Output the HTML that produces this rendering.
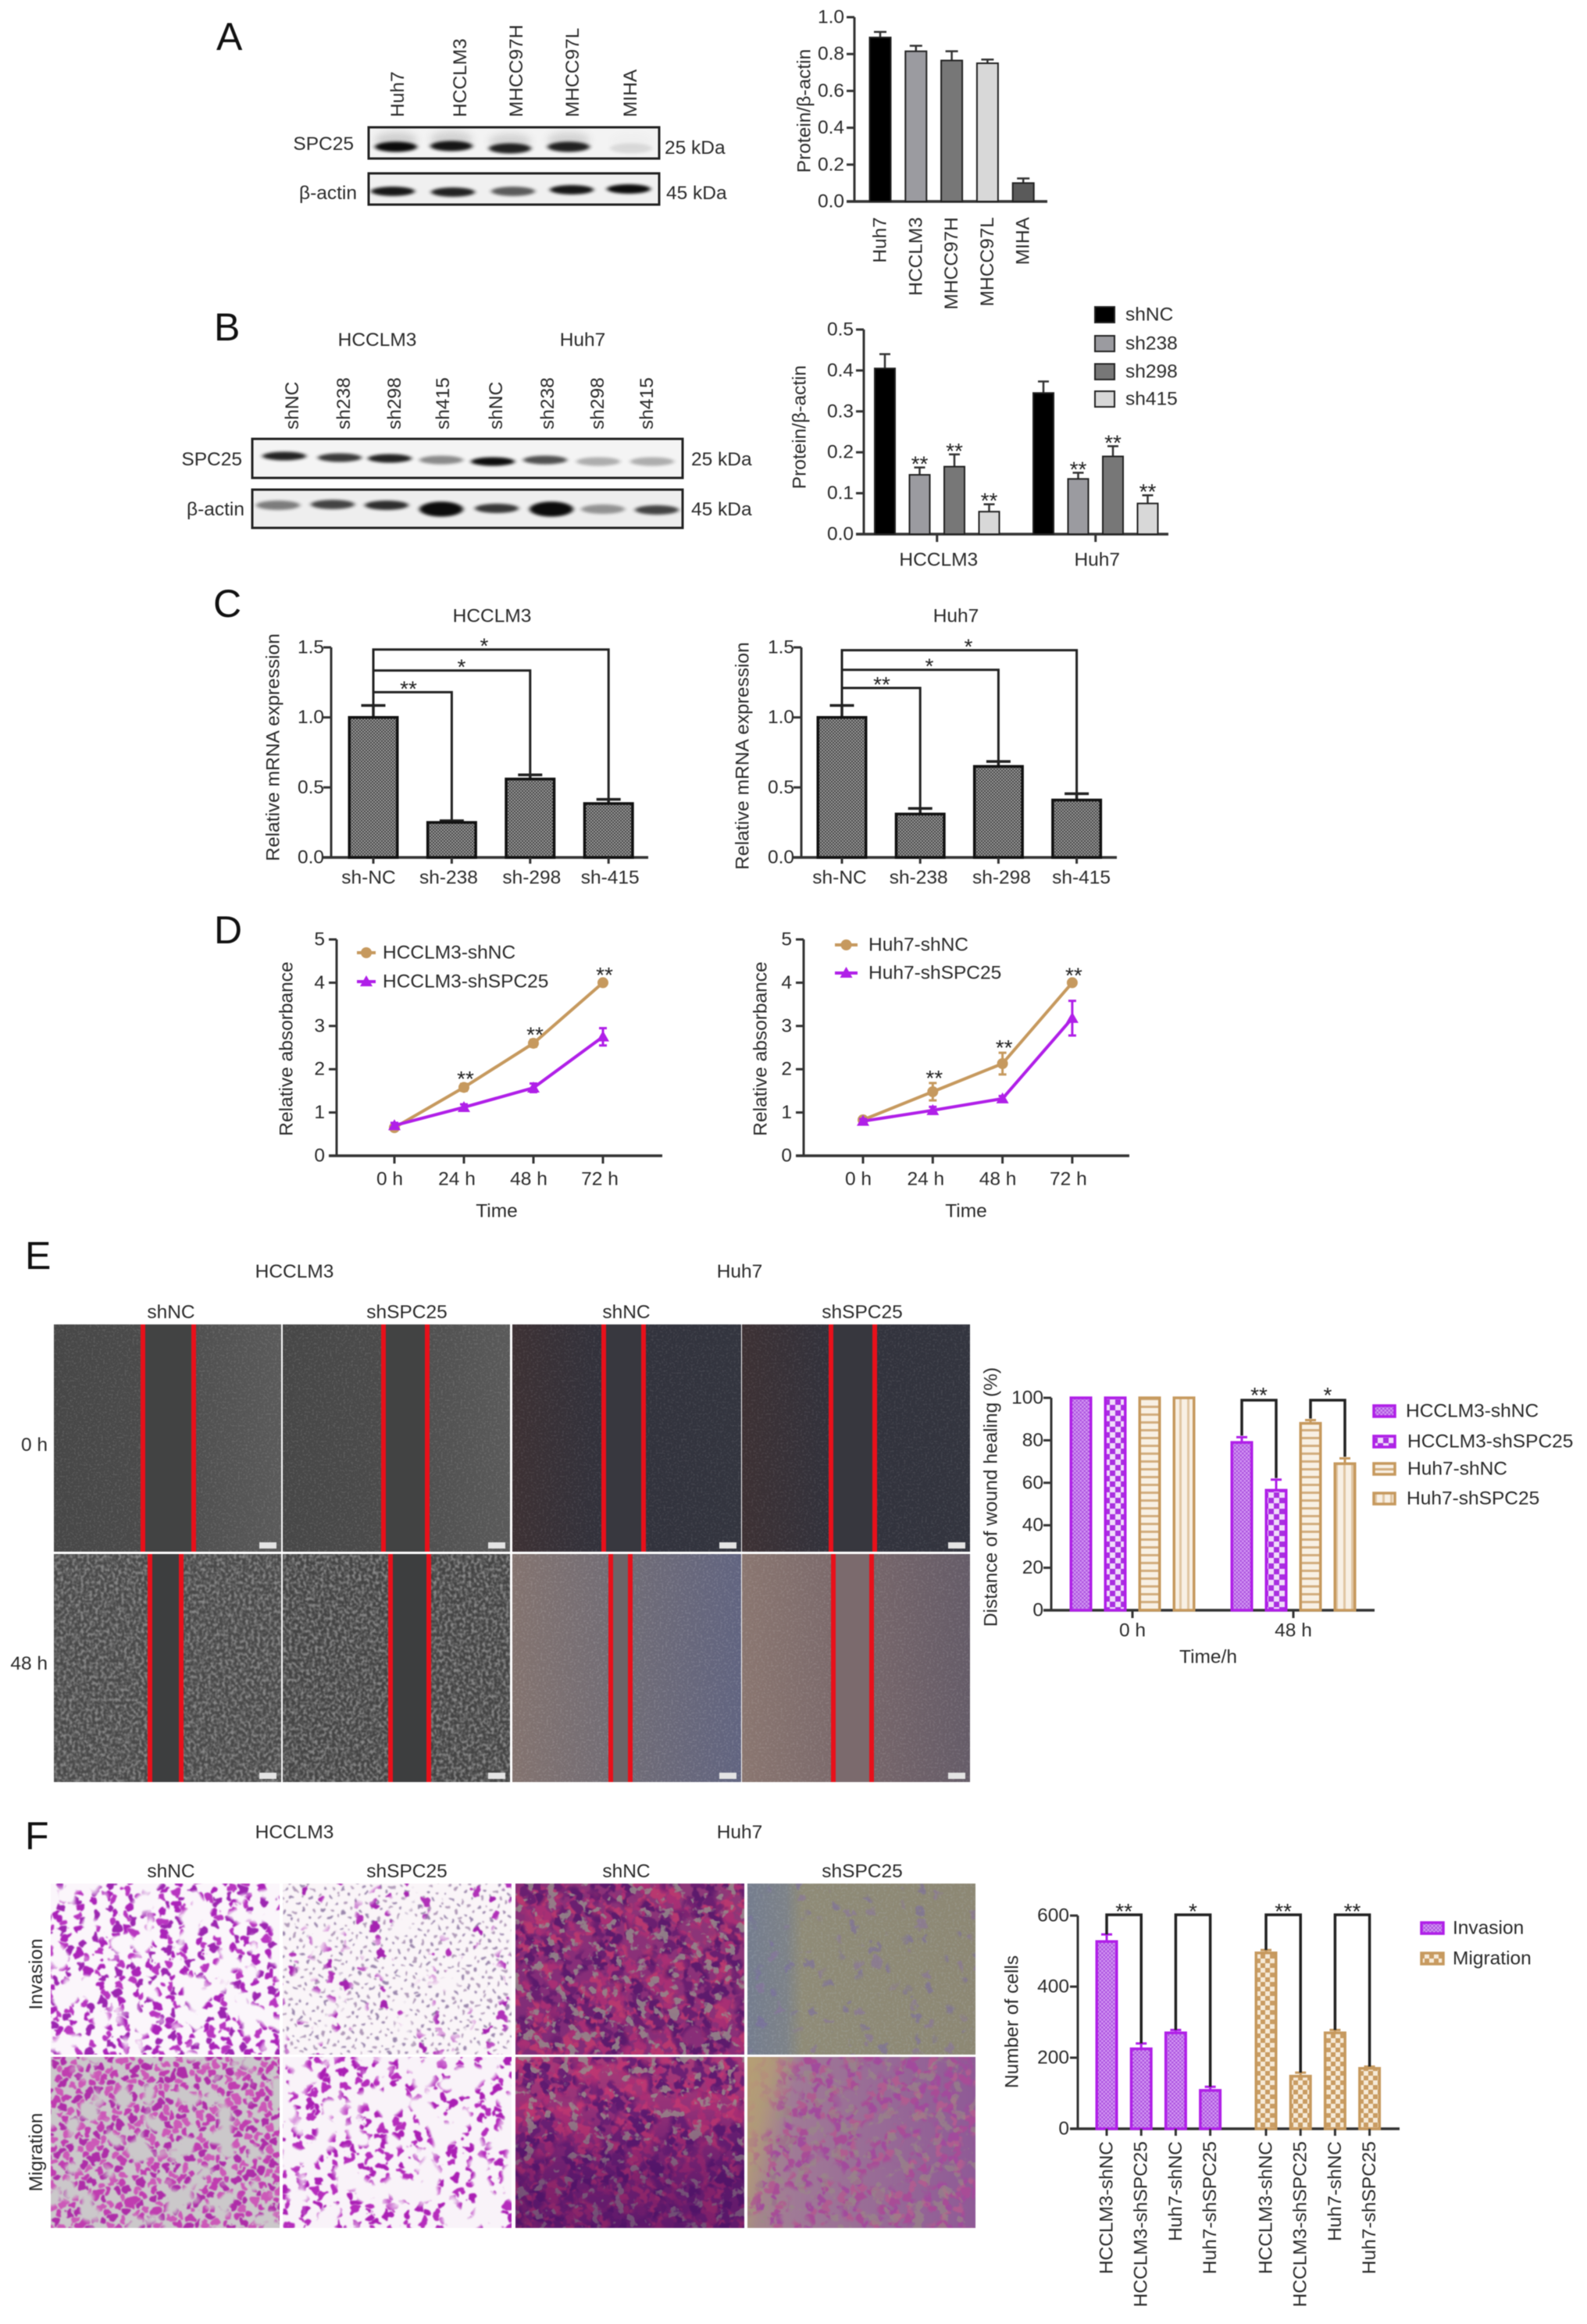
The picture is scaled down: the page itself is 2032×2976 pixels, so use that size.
<!DOCTYPE html>
<html lang="en">
<head>
<meta charset="utf-8">
<title>SPC25 knockdown figure</title>
<style>
html,body{margin:0;padding:0;background:#fff}
svg{display:block}
text{font-family:"Liberation Sans",sans-serif;fill:#2b2b2b;font-size:24.5px}
.letter{font-size:50px;fill:#111}
</style>
</head>
<body>
<svg id="figure" xmlns="http://www.w3.org/2000/svg" width="2032" height="2976" viewBox="0 0 2032 2976" style="filter:blur(.6px)">
<defs id="defs">
  <pattern id="p-fine" width="5" height="5" patternUnits="userSpaceOnUse"><rect width="5" height="5" fill="#d396f3"/><rect width="2.5" height="2.5" fill="#ad55df"/><rect x="2.5" y="2.5" width="2.5" height="2.5" fill="#ad55df"/></pattern>
  <pattern id="p-check" width="14" height="14" patternUnits="userSpaceOnUse"><rect width="14" height="14" fill="#f0dcfa"/><rect width="7" height="7" fill="#a92fe0"/><rect x="7" y="7" width="7" height="7" fill="#a92fe0"/></pattern>
  <pattern id="g-hline" width="10" height="10" patternUnits="userSpaceOnUse"><rect width="10" height="10" fill="#f8f0e4"/><rect width="10" height="3" fill="#d2ad7e"/></pattern>
  <pattern id="g-vline" width="10" height="10" patternUnits="userSpaceOnUse"><rect width="10" height="10" fill="#f8f0e4"/><rect width="3" height="10" fill="#e0c6a2"/></pattern>
  <pattern id="g-check" width="12" height="12" patternUnits="userSpaceOnUse"><rect width="12" height="12" fill="#f6ead8"/><rect width="6" height="6" fill="#c99c62"/><rect x="6" y="6" width="6" height="6" fill="#c99c62"/></pattern>
  <pattern id="k-check" width="4" height="4" patternUnits="userSpaceOnUse"><rect width="4" height="4" fill="#a2a2a2"/><rect width="2" height="2" fill="#3f3f3f"/><rect x="2" y="2" width="2" height="2" fill="#3f3f3f"/></pattern>
  <filter id="bandBlur" x="-30%" y="-100%" width="160%" height="300%"><feGaussianBlur stdDeviation="3 1.8"/></filter>
  <filter id="haloBlur" x="-30%" y="-100%" width="160%" height="300%"><feGaussianBlur stdDeviation="5 5"/></filter>
  <filter id="speckle" x="0" y="0" width="100%" height="100%" color-interpolation-filters="sRGB"><feTurbulence type="fractalNoise" baseFrequency="0.4" numOctaves="2" seed="4"/><feColorMatrix values="0 0 0 0 1 0 0 0 0 1 0 0 0 0 1 0 0 0 5 -2.6"/></filter>
  <filter id="speckleDense" x="0" y="0" width="100%" height="100%" color-interpolation-filters="sRGB"><feTurbulence type="fractalNoise" baseFrequency="0.27 0.24" numOctaves="3" seed="9"/><feColorMatrix values="0 0 0 0 1 0 0 0 0 1 0 0 0 0 1 0 0 0 3 -1.2"/><feGaussianBlur stdDeviation="0.5"/></filter>
  <linearGradient id="w-dark"><stop offset="0" stop-color="#474747"/><stop offset=".45" stop-color="#4b4b4b"/><stop offset="1" stop-color="#5a5a5a"/></linearGradient>
  <linearGradient id="w-huh"><stop offset="0" stop-color="#3d3134"/><stop offset=".4" stop-color="#32323c"/><stop offset="1" stop-color="#33353f"/></linearGradient>
  <linearGradient id="w-huh2a"><stop offset="0" stop-color="#83736f"/><stop offset=".5" stop-color="#706c76"/><stop offset="1" stop-color="#616480"/></linearGradient>
  <linearGradient id="w-huh2b"><stop offset="0" stop-color="#8a7670"/><stop offset=".6" stop-color="#75656a"/><stop offset="1" stop-color="#655c68"/></linearGradient>
  <linearGradient id="t-olive"><stop offset="0" stop-color="#757d8e"/><stop offset=".17" stop-color="#7d8288"/><stop offset=".24" stop-color="#8f8b77"/><stop offset="1" stop-color="#8d8874"/></linearGradient>
  <linearGradient id="t-mauve" x1="0" y1="0" x2="1" y2="0"><stop offset="0" stop-color="#a58a88"/><stop offset=".2" stop-color="#a07a96"/><stop offset="1" stop-color="#8f5a96"/></linearGradient>
  <linearGradient id="t-tanover" x1="0" y1=".15" x2="1" y2=".35"><stop offset="0" stop-color="#b69f74" stop-opacity=".95"/><stop offset=".09" stop-color="#b69f74" stop-opacity=".7"/><stop offset=".2" stop-color="#b69f74" stop-opacity="0"/></linearGradient>
  <linearGradient id="t-dark1" x1="0" y1="1" x2="1" y2="0"><stop offset="0" stop-color="#7e2c78"/><stop offset=".5" stop-color="#8a2f78"/><stop offset="1" stop-color="#8e3a78"/></linearGradient>
  <linearGradient id="t-dark2" x1="0" y1="0" x2="0" y2="1"><stop offset="0" stop-color="#a83c78"/><stop offset=".45" stop-color="#8a2c78"/><stop offset="1" stop-color="#7a2478"/></linearGradient>
  <linearGradient id="t-shade" x1="0" y1="0" x2="0" y2="1"><stop offset=".3" stop-color="#3c0a5a" stop-opacity="0"/><stop offset=".7" stop-color="#3c0a5a" stop-opacity=".35"/><stop offset="1" stop-color="#3c0a5a" stop-opacity=".4"/></linearGradient>
</defs>

<!-- panel letters -->
<text class="letter" x="277" y="64">A</text>
<text class="letter" x="274" y="436">B</text>
<text class="letter" x="273" y="790">C</text>
<text class="letter" x="274" y="1208">D</text>
<text class="letter" x="32" y="1625">E</text>
<text class="letter" x="32" y="2368">F</text>

<!-- blot labels -->
<g>
  <text transform="rotate(-90 517 150)" x="517" y="150">Huh7</text>
  <text transform="rotate(-90 597 150)" x="597" y="150">HCCLM3</text>
  <text transform="rotate(-90 669 150)" x="669" y="150">MHCC97H</text>
  <text transform="rotate(-90 741 150)" x="741" y="150">MHCC97L</text>
  <text transform="rotate(-90 815 150)" x="815" y="150">MIHA</text>
  <text x="453" y="192" text-anchor="end">SPC25</text>
  <text x="457" y="255" text-anchor="end">β-actin</text>
  <text x="851" y="197">25 kDa</text>
  <text x="853" y="255">45 kDa</text>
</g>
<g>
  <text x="483" y="443" text-anchor="middle">HCCLM3</text>
  <text x="746" y="443" text-anchor="middle">Huh7</text>
  <text transform="rotate(-90 382 550)" x="382" y="550">shNC</text>
  <text transform="rotate(-90 448 550)" x="448" y="550">sh238</text>
  <text transform="rotate(-90 513 550)" x="513" y="550">sh298</text>
  <text transform="rotate(-90 575 550)" x="575" y="550">sh415</text>
  <text transform="rotate(-90 643 550)" x="643" y="550">shNC</text>
  <text transform="rotate(-90 709 550)" x="709" y="550">sh238</text>
  <text transform="rotate(-90 773 550)" x="773" y="550">sh298</text>
  <text transform="rotate(-90 836 550)" x="836" y="550">sh415</text>
  <text x="310" y="596" text-anchor="end">SPC25</text>
  <text x="313" y="660" text-anchor="end">β-actin</text>
  <text x="885" y="596">25 kDa</text>
  <text x="885" y="660">45 kDa</text>
</g>

<!-- panel E labels -->
<g>
  <text x="377" y="1636" text-anchor="middle">HCCLM3</text>
  <text x="947" y="1636" text-anchor="middle">Huh7</text>
  <text x="219" y="1688" text-anchor="middle">shNC</text>
  <text x="521" y="1688" text-anchor="middle">shSPC25</text>
  <text x="802" y="1688" text-anchor="middle">shNC</text>
  <text x="1104" y="1688" text-anchor="middle">shSPC25</text>
  <text x="61" y="1858" text-anchor="end">0  h</text>
  <text x="61" y="2138" text-anchor="end">48 h</text>
</g>
<!-- panel F labels -->
<g>
  <text x="377" y="2354" text-anchor="middle">HCCLM3</text>
  <text x="947" y="2354" text-anchor="middle">Huh7</text>
  <text x="219" y="2404" text-anchor="middle">shNC</text>
  <text x="521" y="2404" text-anchor="middle">shSPC25</text>
  <text x="802" y="2404" text-anchor="middle">shNC</text>
  <text x="1104" y="2404" text-anchor="middle">shSPC25</text>
  <text transform="rotate(-90 54 2528)" x="54" y="2528" text-anchor="middle">Invasion</text>
  <text transform="rotate(-90 54 2756)" x="54" y="2756" text-anchor="middle">Migration</text>
</g>
</svg>

<script>
/* ---------- chart data ---------- */
const aCategories = ['Huh7','HCCLM3','MHCC97H','MHCC97L','MIHA'];
const aValues = [0.89,0.815,0.765,0.75,0.10];
const aErrors = [0.03,0.03,0.05,0.02,0.025];
const aTicks = [0,0.2,0.4,0.6,0.8,1.0];
const aTickLabels = ['0.0','0.2','0.4','0.6','0.8','1.0'];

const bGroups = ['HCCLM3','Huh7'];
const bSeries = ['shNC','sh238','sh298','sh415'];
const bHcclm3Values = [0.405,0.145,0.165,0.055];
const bHcclm3Errors = [0.035,0.018,0.03,0.018];
const bHuh7Values = [0.345,0.135,0.19,0.075];
const bHuh7Errors = [0.028,0.015,0.025,0.02];
const bTicks = [0,0.1,0.2,0.3,0.4,0.5];
const bTickLabels = ['0.0','0.1','0.2','0.3','0.4','0.5'];
const bStars = ['','**','**','**'];

const cCategories = ['sh-NC','sh-238','sh-298','sh-415'];
const cHcclm3Values = [1.0,0.25,0.56,0.385];
const cHcclm3Errors = [0.085,0.012,0.03,0.03];
const cHcclm3Levels = [1.18,1.335,1.485];
const cHuh7Values = [1.0,0.31,0.65,0.41];
const cHuh7Errors = [0.085,0.04,0.035,0.045];
const cHuh7Levels = [1.21,1.34,1.48];
const cStars = ['**','*','*'];
const cTicks = [0,0.5,1.0,1.5];
const cTickLabels = ['0.0','0.5','1.0','1.5'];

const dTimes = ['0 h','24 h','48 h','72 h'];
const dTicks = [0,1,2,3,4,5];
const dTickLabels = ['0','1','2','3','4','5'];
const dHcclm3NC = [0.65,1.58,2.6,4.0];
const dHcclm3NCErr = [0.05,0.08,0.08,0.06];
const dHcclm3SPC = [0.7,1.12,1.57,2.75];
const dHcclm3SPCErr = [0.06,0.07,0.1,0.2];
const dHuh7NC = [0.83,1.48,2.13,4.0];
const dHuh7NCErr = [0.05,0.2,0.25,0.05];
const dHuh7SPC = [0.8,1.05,1.32,3.18];
const dHuh7SPCErr = [0.05,0.08,0.06,0.4];
const dStars = ['','**','**','**'];

const eGroups = ['0 h','48 h'];
const eSeries = ['HCCLM3-shNC','HCCLM3-shSPC25','Huh7-shNC','Huh7-shSPC25'];
const e0hValues = [100,100,100,100];
const e0hErrors = [0,0,0,0];
const e48hValues = [79,56.5,88,69];
const e48hErrors = [2.5,5,1.5,2.5];
const eTicks = [0,20,40,60,80,100];
const eTickLabels = ['0','20','40','60','80','100'];

const fCategories = ['HCCLM3-shNC','HCCLM3-shSPC25','Huh7-shNC','Huh7-shSPC25'];
const fInvasionValues = [527,225,270,108];
const fInvasionErrors = [20,15,8,10];
const fMigrationValues = [495,148,270,170];
const fMigrationErrors = [8,10,8,5];
const fTicks = [0,200,400,600];
const fTickLabels = ['0','200','400','600'];
const fBracketStars = ['**','*','**','**'];

/* blot band intensity per lane */
const blotASpc = [1,0.95,0.9,0.9,0.1];
const blotAActin = [0.95,0.9,0.65,0.95,1];
const blotBSpc = [0.9,0.8,0.9,0.45,1,0.7,0.3,0.3];
const blotBActin = [0.5,0.75,0.85,1,0.8,1,0.4,0.75];

/* ---------- helpers ---------- */
const NS = 'http://www.w3.org/2000/svg';
const root = document.getElementById('figure');
function mk(parent, tag, attrs) {
  const n = document.createElementNS(NS, tag);
  for (const k in attrs) n.setAttribute(k, attrs[k]);
  parent.appendChild(n);
  return n;
}
function txt(parent, x, y, s, extra) {
  const t = mk(parent, 'text', Object.assign({x: x, y: y, 'dominant-baseline': 'central'}, extra || {}));
  t.textContent = s;
  return t;
}
function vtxt(parent, x, y, s, anchor) {
  const t = txt(parent, x, y, s, {'text-anchor': anchor, transform: 'rotate(-90 ' + x + ' ' + y + ')'});
  return t;
}
function line(parent, x1, y1, x2, y2, color, w) {
  return mk(parent, 'line', {x1: x1, y1: y1, x2: x2, y2: y2, stroke: color, 'stroke-width': w});
}
function star(parent, x, cy, s) {
  const t = mk(parent, 'text', {x: x, y: cy + 16, 'text-anchor': 'middle', style: 'font-size:28px;fill:#222'});
  t.textContent = s;
  return t;
}
const AX = '#333';
function yScale(ax) { return v => ax.y0 - v / ax.max * (ax.y0 - ax.yTop); }

function drawAxes(g, ax, ticks, labels, title, titleX, titleY) {
  const y = yScale(ax);
  const yl = line(g, ax.x, ax.yTop, ax.x, ax.y0, AX, 3);
  
  
  const xl = line(g, ax.x - 10, ax.y0, ax.xEnd, ax.y0, AX, 3.5);
  
  
  ticks.forEach((t, i) => {
    const tk = line(g, ax.x - 10, y(t), ax.x, y(t), AX, 3);
    
    
    const lb = txt(g, ax.x - (ax.labelGap || 13), y(t), labels[i], {'text-anchor': 'end'});
    
    
  });
  const yt = vtxt(g, titleX, titleY, title, 'middle');
  
  
}

function drawBar(g, x, width, top, base, fill, stroke, sw) {
  return mk(g, 'rect', {x: x - width / 2 + sw / 2, y: top, width: width - sw, height: base - top, fill: fill, stroke: stroke, 'stroke-width': sw});
}
function drawErr(g, x, top, errTop, cap, color, w) {
  const e = mk(g, 'path', {d: 'M' + x + ' ' + top + 'V' + errTop + 'M' + (x - cap / 2) + ' ' + errTop + 'H' + (x + cap / 2), fill: 'none', stroke: color, 'stroke-width': w});
  return e;
}

/* ---------- western blots ---------- */
function drawBlot(name, box, values, laneX, laneY, bandW, bandH) {
  const g = mk(root, 'g', {});
  
  
  const r = mk(g, 'rect', {x: box.x, y: box.y, width: box.w, height: box.h, fill: box.fill});
  
  
  values.forEach((v, i) => {
    if (box.halo) {
      mk(g, 'ellipse', {cx: laneX[i], cy: laneY[i] - 9, rx: bandW / 2, ry: 10, fill: '#555', opacity: v * 0.22, filter: 'url(#haloBlur)'});
    }
    const h = bandH * (v > 0.95 && box.swell ? 1.6 : 1);
    const e = mk(g, 'ellipse', {cx: laneX[i], cy: laneY[i], rx: bandW / 2, ry: h / 2, fill: '#000', opacity: v * 0.95, filter: 'url(#bandBlur)'});
    
    
  });
  const f = mk(g, 'rect', {x: box.x, y: box.y, width: box.w, height: box.h, fill: 'none', stroke: '#222', 'stroke-width': 3});
  
  
}
drawBlot('blot-a-spc25', {x: 472, y: 163, w: 372, h: 40, fill: '#f3f3f3', halo: true}, blotASpc, [507,578,653,728,808], [188,187,190,188,190], 54, 13);
drawBlot('blot-a-actin', {x: 472, y: 222, w: 372, h: 40, fill: '#f0f0f0'}, blotAActin, [503,580,657,732,805], [245,246,245,243,242], 56, 12);
drawBlot('blot-b-spc25', {x: 323, y: 562, w: 551, h: 50, fill: '#f4f4f4'}, blotBSpc, [364,435,499,565,631,698,766,835], [584,586,587,589,591,589,591,591], 56, 11);
drawBlot('blot-b-actin', {x: 323, y: 627, w: 551, h: 49, fill: '#eeeeee', swell: true}, blotBActin, [356,426,495,565,636,706,772,841], [647,646,647,652,651,652,652,653], 56, 12);

/* ---------- wound-healing photos ---------- */
const woundPhotos = [
  {x:69,y:1696,w:291,h:291,bg:'url(#w-dark)',gap:'#424343',l:183,r:248,n:'speckle',o:.1},
  {x:362,y:1696,w:291,h:291,bg:'url(#w-dark)',gap:'#424343',l:491,r:547,n:'speckle',o:.1},
  {x:656,y:1696,w:293,h:291,bg:'url(#w-huh)',gap:'#38383f',l:773,r:824,n:'speckle',o:.08},
  {x:950,y:1696,w:292,h:291,bg:'url(#w-huh)',gap:'#37373e',l:1064,r:1120,n:'speckle',o:.08},
  {x:69,y:1990,w:291,h:292,bg:'#484848',gap:'#3d3e3f',l:192,r:232,n:'speckleDense',o:.36},
  {x:362,y:1990,w:291,h:292,bg:'#434343',gap:'#3d3e3f',l:500,r:549,n:'speckleDense',o:.38},
  {x:656,y:1990,w:293,h:292,bg:'url(#w-huh2a)',gap:'#6c6468',l:782,r:807,n:'speckle',o:.12},
  {x:950,y:1990,w:292,h:292,bg:'url(#w-huh2b)',gap:'#7b6a6d',l:1067,r:1116,n:'speckle',o:.1}
];
const woundGroup = mk(root, 'g', {});


woundPhotos.forEach(p => {
  const g = mk(woundGroup, 'g', {});
  
  
  mk(g, 'rect', {x: p.x, y: p.y, width: p.w, height: p.h, fill: p.bg});
  mk(g, 'rect', {x: p.x, y: p.y, width: p.w, height: p.h, fill: '#fff', filter: 'url(#' + p.n + ')', opacity: p.o});
  mk(g, 'rect', {x: p.l, y: p.y, width: p.r - p.l, height: p.h, fill: p.gap});
  const rl = mk(g, 'rect', {x: p.l - 3, y: p.y, width: 6, height: p.h, fill: '#e8101a'});
  
  
  const rr = mk(g, 'rect', {x: p.r - 3, y: p.y, width: 6, height: p.h, fill: '#e8101a'});
  
  
  const sb = mk(g, 'rect', {x: p.x + p.w - 28, y: p.y + p.h - 12, width: 22, height: 8, fill: '#e4e4e4'});
  
  
});

/* ---------- transwell photos (photographic texture, not chart data) ---------- */
const defs = document.getElementById('defs');
function clusterFilter(id, seed, maskFreq, th, wobble) {
  const k = 9;
  defs.insertAdjacentHTML('beforeend',
    '<filter xmlns="http://www.w3.org/2000/svg" id="' + id + '" x="-5%" y="-5%" width="110%" height="110%" color-interpolation-filters="sRGB">' +
    '<feTurbulence type="fractalNoise" baseFrequency="0.09" numOctaves="2" seed="' + seed + '" result="wob"/>' +
    '<feDisplacementMap in="SourceGraphic" in2="wob" scale="' + wobble + '" xChannelSelector="R" yChannelSelector="G" result="dis"/>' +
    '<feTurbulence type="fractalNoise" baseFrequency="' + maskFreq + '" numOctaves="2" seed="' + (seed + 5) + '" result="coarse"/>' +
    '<feColorMatrix in="coarse" values="0 0 0 0 1 0 0 0 0 1 0 0 0 0 1 0 0 0 ' + k + ' ' + (-k * th) + '" result="mask"/>' +
    '<feComposite in="dis" in2="mask" operator="in" result="cut"/>' +
    '<feGaussianBlur in="cut" stdDeviation="0.7"/></filter>');
}
function patchFilter(id, freq, seed, rgb, th) {
  const k = 10;
  defs.insertAdjacentHTML('beforeend',
    '<filter xmlns="http://www.w3.org/2000/svg" id="' + id + '" x="0" y="0" width="100%" height="100%" color-interpolation-filters="sRGB">' +
    '<feTurbulence type="fractalNoise" baseFrequency="' + freq + '" numOctaves="3" seed="' + seed + '"/>' +
    '<feColorMatrix values="0 0 0 0 ' + rgb[0] + ' 0 0 0 0 ' + rgb[1] + ' 0 0 0 0 ' + rgb[2] + ' 0 0 0 ' + k + ' ' + (-k * th) + '"/></filter>');
}
clusterFilter('m1', 3, .03, .36, 16);
clusterFilter('m2', 8, .02, .48, 18);
clusterFilter('m2s', 13, .02, .25, 12);
clusterFilter('m3', 17, .03, .34, 14);
clusterFilter('m4', 23, .028, .42, 18);
clusterFilter('m5', 29, .03, .36, 18);
clusterFilter('m5d', 34, .025, .42, 18);
clusterFilter('m6', 41, .03, .45, 20);
clusterFilter('m7', 47, .03, .36, 18);
clusterFilter('m7d', 52, .025, .42, 18);
clusterFilter('m8', 58, .03, .38, 18);
patchFilter('g5', .07, 61, [.58,.52,.54], .58);
patchFilter('g7', .07, 66, [.6,.52,.54], .6);
patchFilter('g8', .06, 71, [.6,.55,.52], .57);
patchFilter('s6', .35, 76, [.72,.76,.8], .55);

const transwellPhotos = [
  {x:65,y:2412,w:293,h:219,bg:'#fbf6fb',layers:[{n:330,r:5.2,c:['#aa22b8','#b835c0','#9c25b0'],m:'m1',s:1}]},
  {x:362,y:2412,w:293,h:219,bg:'#faf5f8',layers:[{n:650,r:2,c:['#9a86ac','#b09ab8'],m:'m2s',s:300},{n:120,r:5,c:['#a422b0','#b030b8'],m:'m2',s:900}]},
  {x:660,y:2412,w:293,h:219,bg:'url(#t-dark1)',layers:[{n:430,r:6,c:['#b8386f','#a82f74'],m:'m5',s:1300},{n:360,r:6,c:['#5c1a6c','#6a1f70'],m:'m5d',s:1900},{p:'g5',o:.9}]},
  {x:957,y:2412,w:292,h:219,bg:'url(#t-olive)',layers:[{p:'s6',o:.16},{n:110,r:5.5,c:['#7a6aa4','#8a72a2'],m:'m6',s:2300,o:.55}]},
  {x:65,y:2634,w:293,h:219,bg:'#cbc8ca',layers:[{n:520,r:4.8,c:['#c03cb0','#ae2ca8','#cc58b8'],m:'m3',s:2500}]},
  {x:362,y:2634,w:293,h:219,bg:'#f9f3f9',layers:[{n:280,r:5.2,c:['#aa1eb4','#b52cbc'],m:'m4',s:3300}]},
  {x:660,y:2634,w:293,h:219,bg:'url(#t-dark2)',layers:[{n:430,r:6,c:['#bc3672','#aa2e74'],m:'m7',s:3800},{n:360,r:6,c:['#5e1a70','#6c2074'],m:'m7d',s:4400},{p:'g7',o:.9},{f:'url(#t-shade)'}]},
  {x:957,y:2634,w:292,h:219,bg:'url(#t-mauve)',layers:[{n:380,r:5.5,c:['#a84c96','#a24a9c','#b05c90'],m:'m8',s:4900},{p:'g8',o:.6},{f:'url(#t-tanover)'}]}
];
const frac = v => v - Math.floor(v);
const twGroup = mk(root, 'g', {});


transwellPhotos.forEach((p, pi) => {
  const g = mk(twGroup, 'g', {});
  
  
  const cp = mk(defs, 'clipPath', {id: 'tw-clip-' + pi});
  mk(cp, 'rect', {x: p.x, y: p.y, width: p.w, height: p.h});
  const inner = mk(g, 'g', {'clip-path': 'url(#tw-clip-' + pi + ')'});
  mk(inner, 'rect', {x: p.x, y: p.y, width: p.w, height: p.h, fill: p.bg});
  p.layers.forEach(l => {
    if (l.p) {
      mk(inner, 'rect', {x: p.x, y: p.y, width: p.w, height: p.h, fill: '#fff', filter: 'url(#' + l.p + ')', opacity: l.o});
    } else if (l.f) {
      mk(inner, 'rect', {x: p.x, y: p.y, width: p.w, height: p.h, fill: l.f});
    } else {
      const lg = mk(inner, 'g', {filter: 'url(#' + l.m + ')', opacity: l.o || 1});
      /* low-discrepancy (R2) placement of stained cells */
      mk(lg, 'rect', {x: p.x, y: p.y, width: p.w, height: p.h, fill: 'none'});
      for (let n = l.s; n < l.s + l.n; n++) {
        mk(lg, 'circle', {
          cx: (p.x - 6 + frac(n * 0.7548776662) * (p.w + 12)).toFixed(1),
          cy: (p.y - 6 + frac(n * 0.5698402910) * (p.h + 12)).toFixed(1),
          r: l.r,
          fill: l.c[n % l.c.length]
        });
      }
    }
  });
});

/* ---------- panel A chart ---------- */
(function () {
  const g = mk(root, 'g', {});
  
  
  const ax = {x: 1094, xEnd: 1341, y0: 258, yTop: 22, max: 1};
  const y = yScale(ax);
  const xBand = i => 1127 + 45.8 * i;
  const fills = ['#000','#9b9ba0','#777','#d8d8d8','#5a5a5a'];
  drawAxes(g, ax, aTicks, aTickLabels, 'Protein/β-actin', 1030, 142);
  aCategories.forEach((c, i) => {
    const er = drawErr(g, xBand(i), y(aValues[i]), y(aValues[i] + aErrors[i]), 16, '#333', 2.5);
    
    
    const b = drawBar(g, xBand(i), 29, y(aValues[i]), ax.y0, fills[i], '#222', 2);
    
    
    const lb = vtxt(g, xBand(i), 278, c, 'end');
    
    
  });
})();

/* ---------- panel B chart ---------- */
(function () {
  const g = mk(root, 'g', {});
  
  
  const ax = {x: 1106, xEnd: 1496, y0: 684, yTop: 422, max: 0.5};
  const y = yScale(ax);
  const fills = ['#000','#9b9ba0','#777','#d8d8d8'];
  const xBand = (gi, i) => [1133, 1336][gi] + 44.5 * i;
  drawAxes(g, ax, bTicks, bTickLabels, 'Protein/β-actin', 1024, 547);
  [[bHcclm3Values, bHcclm3Errors], [bHuh7Values, bHuh7Errors]].forEach((pair, gi) => {
    pair[0].forEach((v, i) => {
      const x = xBand(gi, i);
      const er = drawErr(g, x, y(v), y(v + pair[1][i]), 14, '#333', 2.5);
      
      
      const b = drawBar(g, x, 28, y(v), ax.y0, fills[i], '#222', 2);
      
      
      if (bStars[i]) {
        const s = star(g, x, y(v + pair[1][i]) - 11, bStars[i]);
        
        
      }
    });
    const mid = (xBand(gi, 1) + xBand(gi, 2)) / 2;
    const tk = line(g, mid, ax.y0, mid, ax.y0 + 10, AX, 3);
    
    
    const lb = txt(g, mid + 2, 717, bGroups[gi], {'text-anchor': 'middle'});
    
    
  });
  const legendY = [403, 440, 476, 511];
  bSeries.forEach((s, i) => {
    const sw = mk(g, 'rect', {x: 1402, y: legendY[i] - 10, width: 25, height: 20, fill: fills[i], stroke: '#222', 'stroke-width': 2});
    
    
    const lb = txt(g, 1441, legendY[i], s, {});
    
    
  });
})();

/* ---------- panel C charts ---------- */
function drawC(name, ax, x0, step, values, errors, levels, title, titleX, ylabelX, ylabelY, labelShift, starX) {
  const g = mk(root, 'g', {});
  
  
  const y = yScale(ax);
  const xBand = i => x0 + step * i;
  drawAxes(g, ax, cTicks, cTickLabels, 'Relative mRNA expression', ylabelX, ylabelY);
  const tt = txt(g, titleX, 789, title, {'text-anchor': 'middle'});
  
  
  cCategories.forEach((c, i) => {
    const x = xBand(i);
    const er = drawErr(g, x, y(values[i]), y(values[i] + errors[i]), 31, '#222', 3.5);
    
    
    const b = drawBar(g, x, 65, y(values[i]), ax.y0, 'url(#k-check)', '#111', 3.5);
    
    
    const tk = line(g, x, ax.y0, x, ax.y0 + 8, AX, 3);
    
    
    const lb = txt(g, x + labelShift[i], 1124, c, {'text-anchor': 'middle'});
    
    
  });
  levels.forEach((lv, j) => {
    const i = j + 1;
    const br = mk(g, 'path', {d: 'M' + xBand(0) + ' ' + y(values[0] + errors[0]) + 'V' + y(lv) + 'H' + xBand(i) + 'V' + y(values[i] + errors[i]), fill: 'none', stroke: '#222', 'stroke-width': 3});
    
    
    const s = star(g, starX[j], y(lv) - 11, cStars[j]);
    
    
  });
}
drawC('mrna-chart-hcclm3', {x: 424, xEnd: 830, y0: 1098, yTop: 829, max: 1.5, labelGap: 9}, 478, 100.4, cHcclm3Values, cHcclm3Errors, cHcclm3Levels, 'HCCLM3', 630, 350, 957, [-6,-4,2,2], [523,591,620]);
drawC('mrna-chart-huh7', {x: 1026, xEnd: 1430, y0: 1098, yTop: 829, max: 1.5, labelGap: 9}, 1078, 100.2, cHuh7Values, cHuh7Errors, cHuh7Levels, 'Huh7', 1224, 951, 968, [-3,-2,4,6], [1129,1190,1240]);

/* ---------- panel D charts ---------- */
const GOLD = '#c6995e';
const PURPLE = '#b01fe8';
function drawD(name, ax, x0, step, nc, ncErr, spc, spcErr, labels, timeX, ylabelX, ylabelY, legend, labelShift) {
  const g = mk(root, 'g', {});
  
  
  const y = yScale(ax);
  const xT = i => x0 + step * i;
  drawAxes(g, ax, dTicks, dTickLabels, 'Relative absorbance', ylabelX, ylabelY);
  dTimes.forEach((t, i) => {
    const tk = line(g, xT(i), ax.y0, xT(i), ax.y0 + 10, AX, 3);
    
    
    const lb = txt(g, xT(i) + labelShift[i], 1510, t, {'text-anchor': 'middle'});
    
    
  });
  const tl = txt(g, timeX, 1551, 'Time', {'text-anchor': 'middle'});
  
  
  const series = [
    {v: nc, e: ncErr, c: GOLD, tri: false},
    {v: spc, e: spcErr, c: PURPLE, tri: true}
  ];
  series.forEach((s, si) => {
    const p = mk(g, 'polyline', {points: s.v.map((v, i) => xT(i) + ',' + y(v)).join(' '), fill: 'none', stroke: s.c, 'stroke-width': 4});
    
    
    s.v.forEach((v, i) => {
      const x = xT(i), yy = y(v);
      const er = mk(g, 'path', {d: 'M' + x + ' ' + y(v + s.e[i]) + 'V' + y(v - s.e[i]) + 'M' + (x - 5) + ' ' + y(v + s.e[i]) + 'h10M' + (x - 5) + ' ' + y(v - s.e[i]) + 'h10', fill: 'none', stroke: s.c, 'stroke-width': 3});
      
      
      const m = s.tri
        ? mk(g, 'path', {d: 'M' + x + ' ' + (yy - 8) + 'l8 14h-16z', fill: s.c})
        : mk(g, 'circle', {cx: x, cy: yy, r: 7, fill: s.c});
      
      
    });
  });
  dStars.forEach((st, i) => {
    if (st) {
      const s = star(g, xT(i) + 2, y(nc[i] + ncErr[i]) - 13, st);
      
      
    }
  });
  series.forEach((s, si) => {
    const ly = legend.y[si], lx = legend.x;
    const l = line(g, lx, ly, lx + legend.len, ly, s.c, 4);
    
    
    const mx = lx + legend.len / 2;
    const m = s.tri
      ? mk(g, 'path', {d: 'M' + mx + ' ' + (ly - 8) + 'l8 14h-16z', fill: s.c})
      : mk(g, 'circle', {cx: mx, cy: ly, r: 7, fill: s.c});
    
    
    const lb = txt(g, legend.tx, ly, labels[si], {});
    
    
  });
}
drawD('absorbance-chart-hcclm3', {x: 431, xEnd: 848, y0: 1480, yTop: 1203, max: 5, labelGap: 15}, 505, 89, dHcclm3NC, dHcclm3NCErr, dHcclm3SPC, dHcclm3SPCErr, ['HCCLM3-shNC','HCCLM3-shSPC25'], 636, 367, 1343, {x: 457, len: 24, tx: 490, y: [1220, 1257]}, [-6,-9,-6,-4]);
drawD('absorbance-chart-huh7', {x: 1029, xEnd: 1446, y0: 1480, yTop: 1203, max: 5, labelGap: 15}, 1105, 89.3, dHuh7NC, dHuh7NCErr, dHuh7SPC, dHuh7SPCErr, ['Huh7-shNC','Huh7-shSPC25'], 1237, 974, 1343, {x: 1069, len: 29, tx: 1112, y: [1210, 1246]}, [-6,-9,-6,-5]);

/* ---------- panel E chart ---------- */
(function () {
  const g = mk(root, 'g', {});
  
  
  const ax = {x: 1346, xEnd: 1760, y0: 2062, yTop: 1790, max: 100, labelGap: 10};
  const y = yScale(ax);
  const fills = ['url(#p-fine)','url(#p-check)','url(#g-hline)','url(#g-vline)'];
  const strokes = [PURPLE, PURPLE, GOLD, GOLD];
  const xBand = (gi, i) => [1384, 1590][gi] + 44 * i;
  drawAxes(g, ax, eTicks, eTickLabels, 'Distance of wound healing (%)', 1269, 1917);
  [[e0hValues, e0hErrors], [e48hValues, e48hErrors]].forEach((pair, gi) => {
    pair[0].forEach((v, i) => {
      const x = xBand(gi, i);
      if (pair[1][i] > 0) {
        const er = drawErr(g, x, y(v), y(v + pair[1][i]), 14, strokes[i], 3);
        
        
      }
      const b = drawBar(g, x, 29, y(v), ax.y0, fills[i], strokes[i], 3.5);
      
      
    });
    const mid = (xBand(gi, 1) + xBand(gi, 2)) / 2;
    const tk = line(g, mid, ax.y0, mid, ax.y0 + 10, AX, 3);
    
    
    const lb = txt(g, mid, 2088, eGroups[gi], {'text-anchor': 'middle'});
    
    
  });
  const xt = txt(g, 1547, 2122, 'Time/h', {'text-anchor': 'middle'});
  
  
  [[0, 1, '**'], [2, 3, '*']].forEach(b => {
    const xa = xBand(1, b[0]), xb = xBand(1, b[1]);
    const top = 1793;
    const br = mk(g, 'path', {d: 'M' + xa + ' ' + (y(e48hValues[b[0]] + e48hErrors[b[0]]) - 2) + 'V' + top + 'H' + xb + 'V' + (y(e48hValues[b[1]] + e48hErrors[b[1]]) - 2), fill: 'none', stroke: '#222', 'stroke-width': 3.5});
    
    
    const s = star(g, (xa + xb) / 2, 1780, b[2]);
    
    
  });
  const legendY = [1807, 1846, 1881, 1919];
  const legendX = [1800, 1802, 1802, 1801];
  eSeries.forEach((s, i) => {
    const sw = mk(g, 'rect', {x: 1759, y: legendY[i] - 7, width: 27, height: 14, fill: fills[i], stroke: strokes[i], 'stroke-width': 3.5});
    
    
    const lb = txt(g, legendX[i], legendY[i], s, {});
    
    
  });
})();

/* ---------- panel F chart ---------- */
(function () {
  const g = mk(root, 'g', {});
  
  
  const ax = {x: 1380, xEnd: 1792, y0: 2726, yTop: 2453, max: 600, labelGap: 11};
  const y = yScale(ax);
  const xBand = (gi, i) => [1417, 1621][gi] + 44.2 * i;
  drawAxes(g, ax, fTicks, fTickLabels, 'Number of cells', 1296, 2589);
  const sets = [
    {v: fInvasionValues, e: fInvasionErrors, fill: 'url(#p-fine)', c: PURPLE, n: 'Invasion'},
    {v: fMigrationValues, e: fMigrationErrors, fill: 'url(#g-check)', c: GOLD, n: 'Migration'}
  ];
  sets.forEach((set, gi) => {
    set.v.forEach((v, i) => {
      const x = xBand(gi, i);
      const er = drawErr(g, x, y(v), y(v + set.e[i]), 14, set.c, 3);
      
      
      const b = drawBar(g, x, 29, y(v), ax.y0, set.fill, set.c, 3.5);
      
      
      const tk = line(g, x, ax.y0, x, ax.y0 + 9, AX, 3);
      
      
      const lb = vtxt(g, x, 2742, fCategories[i], 'end');
      
      
    });
    [0, 2].forEach((a, k) => {
      const xa = xBand(gi, a), xb = xBand(gi, a + 1);
      const br = mk(g, 'path', {d: 'M' + xa + ' ' + y(set.v[a] + set.e[a]) + 'V2452H' + xb + 'V' + y(set.v[a + 1] + set.e[a + 1]), fill: 'none', stroke: '#222', 'stroke-width': 3.5});
      
      
      const s = star(g, (xa + xb) / 2, 2441, fBracketStars[gi * 2 + k]);
      
      
    });
    const ly = [2469, 2508][gi];
    const sw = mk(g, 'rect', {x: 1820, y: ly - 7, width: 28, height: 14, fill: gi ? 'url(#g-check)' : 'url(#p-fine)', stroke: set.c, 'stroke-width': 3.5});
    
    
    const lb = txt(g, 1860, ly, set.n, {});
    
    
  });
})();
</script>
</body>
</html>
